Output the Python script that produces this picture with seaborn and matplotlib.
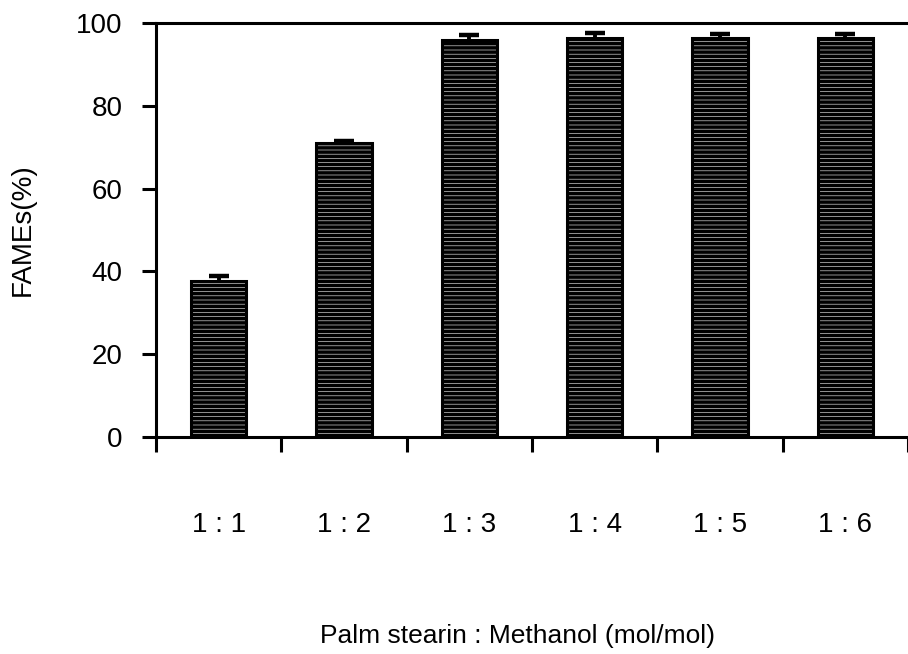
import matplotlib
matplotlib.use("Agg")
import matplotlib.pyplot as plt
import seaborn as sns
import pandas as pd
import numpy as np

# Molar ratio of palm stearin to methanol and FAME yield
ratios = ["1 : 1", "1 : 2", "1 : 3", "1 : 4", "1 : 5", "1 : 6"]
fames = [37.7, 71.0, 95.9, 96.4, 96.4, 96.3]
fames_err = [1.2, 0.6, 1.2, 1.2, 0.9, 1.1]
y_ticks = [0, 20, 40, 60, 80, 100]

sns.set_style("white")
plt.rcParams["font.family"] = ["Liberation Sans", "DejaVu Sans"]
plt.rcParams["hatch.linewidth"] = 2.6
plt.rcParams["hatch.color"] = "black"
plt.rcParams["text.color"] = "black"
plt.rcParams["axes.labelcolor"] = "black"
plt.rcParams["xtick.color"] = "black"
plt.rcParams["ytick.color"] = "black"

df = pd.DataFrame({"ratio": ratios, "fames": fames})

fig = plt.figure(figsize=(9.08, 6.54), dpi=100)
ax = fig.add_axes([0.1718, 0.3318, 0.8282, 0.633])

sns.barplot(data=df, x="ratio", y="fames", order=ratios, width=0.44,
            color="white", edgecolor="black", linewidth=2.2,
            errorbar=None, ax=ax, zorder=3)
for patch in ax.patches:
    patch.set_hatch("----")
    patch.set_facecolor("white")
    patch.set_edgecolor("black")

ax.errorbar(np.arange(len(ratios)), fames, yerr=fames_err, fmt="none",
            ecolor="black", elinewidth=2.8, capsize=7, capthick=3.2, zorder=2)

ax.set_xlim(-0.5, len(ratios) - 0.5)
ax.set_ylim(0, 100)
ax.set_yticks(y_ticks)
ax.set_yticklabels([str(t) for t in y_ticks])

# category labels sit at the bar centres, tick marks at the boundaries
ax.set_xticks(np.arange(len(ratios)))
ax.set_xticklabels(ratios)
ax.set_xticks(np.arange(len(ratios) + 1) - 0.5, minor=True)
ax.tick_params(axis="x", which="major", length=0, pad=54, labelsize=20,
               labelcolor="black")
ax.tick_params(axis="x", which="minor", length=11, width=2.2, direction="out",
               bottom=True, color="black")
ax.tick_params(axis="y", which="major", length=10, width=2.2, direction="out",
               left=True, pad=14, labelsize=20, color="black", labelcolor="black")

for side in ["left", "bottom", "top"]:
    ax.spines[side].set_visible(True)
    ax.spines[side].set_color("black")
    ax.spines[side].set_linewidth(2.2)
ax.spines["right"].set_visible(False)

ax.set_xlabel("Palm stearin : Methanol (mol/mol)", fontsize=19, labelpad=62,
              color="black")
ax.xaxis.label.set_x(0.481)
ax.set_ylabel("FAMEs(%)", fontsize=20, labelpad=29, color="black")

fig.savefig("out.png", dpi=100)
